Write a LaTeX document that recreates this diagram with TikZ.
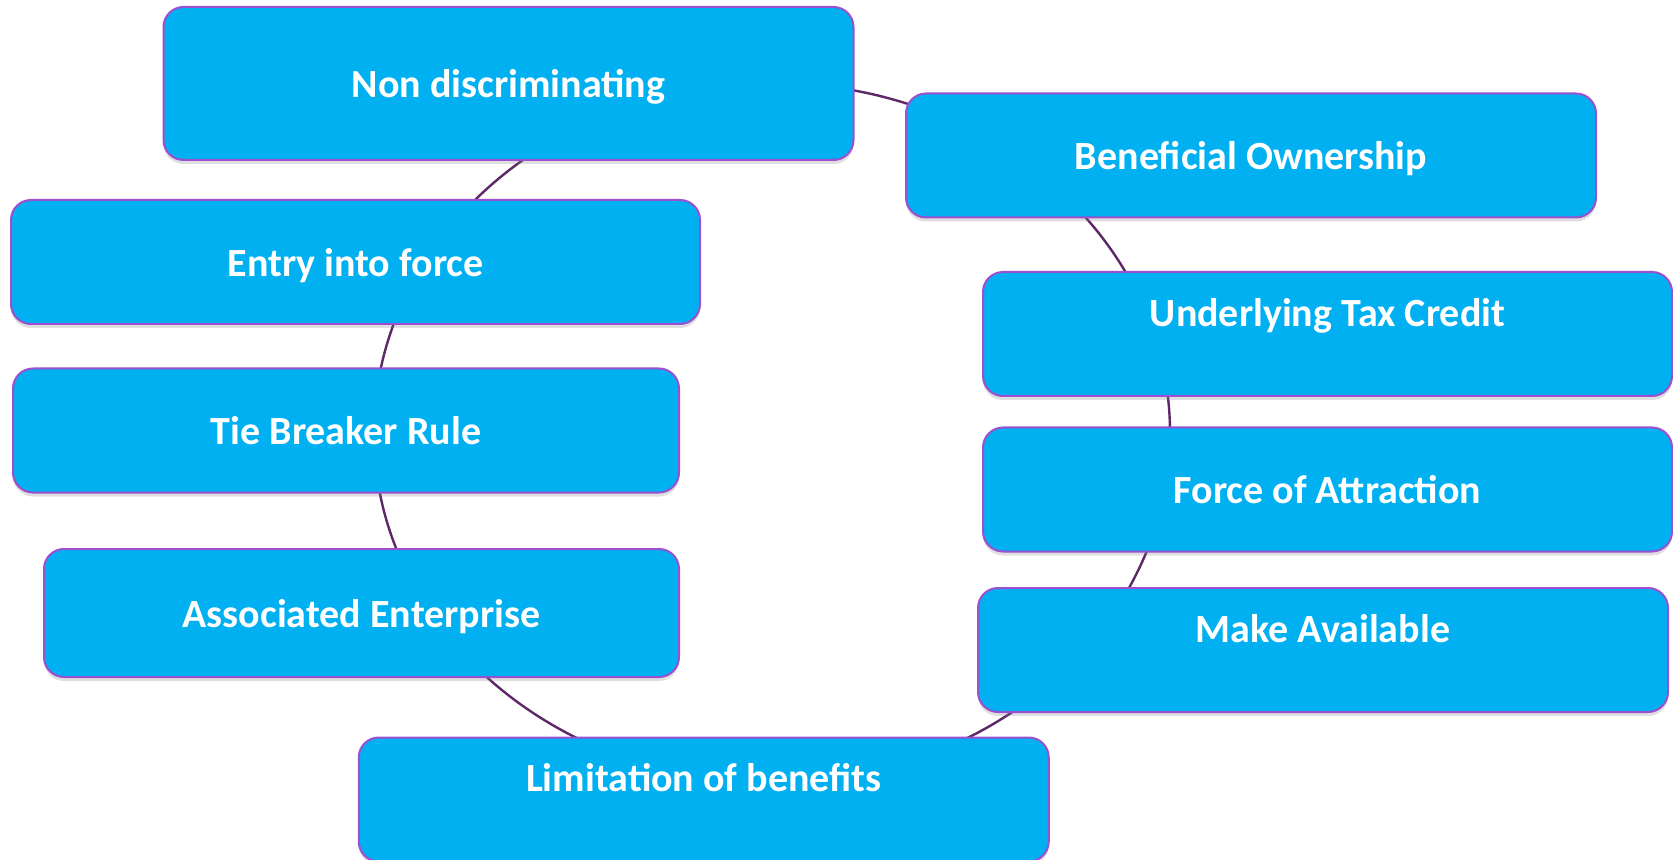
\documentclass[tikz,border=0pt]{standalone}
\usepackage{fontspec}
\setmainfont{Carlito}
\usetikzlibrary{shadows}
\definecolor{boxblue}{HTML}{00B0F0}
\definecolor{boxline}{HTML}{9B50CF}
\definecolor{ringline}{HTML}{5E2767}
\tikzset{
  item/.style={draw=boxline, line width=1pt, fill=boxblue, rounded corners=10pt,
    inner sep=0pt, minimum width=345pt, minimum height=62pt,
    text=white, font=\bfseries\fontsize{20}{22}\selectfont,
    text height=17pt, text depth=2.6pt,
    drop shadow={shadow xshift=0pt, shadow yshift=-2pt, opacity=.25}},
  upper/.style={text depth=24.6pt}
}
\begin{document}
\begin{tikzpicture}[x=0.5pt, y=-0.5pt]
    \useasboundingbox (0,0) rectangle (1673,860);
    \fill[white] (0,0) rectangle (1673,860);

    \coordinate (O) at (772,433);
    \draw[ringline, line width=1.2pt] (O) ellipse [x radius=398, y radius=350];

    \node[item, minimum height=76.5pt] (nd) at (508.5,83.5) {Non discriminating};
    \node[item] (bo) at (1251,155.5) {Beneficial Ownership};
    \node[item, minimum width=344.5pt] (ef) at (355.5,262) {Entry into force};
    \node[item, upper, minimum width=344.5pt] (ut) at (1327.5,334) {Underlying Tax Credit};
    \node[item, minimum width=333pt] (tb) at (346,430.5) {Tie Breaker Rule};
    \node[item, minimum width=344.5pt] (fa) at (1327.5,489.5) {Force of Attraction};
    \node[item, minimum width=317.5pt, minimum height=64pt] (ae) at (361.5,613) {Associated Enterprise};
    \node[item, upper] (ma) at (1323,650) {Make Available};
    \node[item, upper] (lb) at (703.75,799.5) {Limitation of benefits};
\end{tikzpicture}
\end{document}
